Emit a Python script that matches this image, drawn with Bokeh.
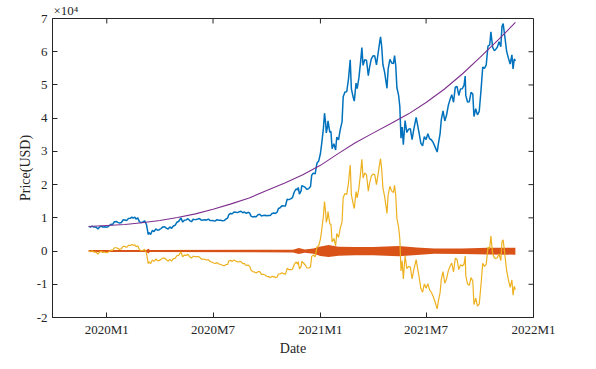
import pandas as pd
from bokeh.plotting import figure
from bokeh.models import Range1d, FixedTicker, ColumnDataSource
from bokeh.embed import file_html
from bokeh.resources import INLINE

# ---------------- data (values in units of 10^4 USD) ----------------
dates = [
    "2019-12-01", "2019-12-04", "2019-12-07", "2019-12-10", "2019-12-13", "2019-12-17", "2019-12-19", "2019-12-22", "2019-12-25", "2019-12-28", "2019-12-31",
    "2020-01-03", "2020-01-06", "2020-01-08", "2020-01-11", "2020-01-14", "2020-01-17", "2020-01-20", "2020-01-23", "2020-01-26", "2020-01-29",
    "2020-02-01", "2020-02-04", "2020-02-07", "2020-02-10", "2020-02-13", "2020-02-15", "2020-02-18", "2020-02-20", "2020-02-23", "2020-02-26", "2020-02-29",
    "2020-03-03", "2020-03-06", "2020-03-09", "2020-03-12", "2020-03-13", "2020-03-16", "2020-03-19", "2020-03-22", "2020-03-25", "2020-03-28", "2020-03-31",
    "2020-04-03", "2020-04-06", "2020-04-09", "2020-04-12", "2020-04-15", "2020-04-18", "2020-04-21", "2020-04-24", "2020-04-27", "2020-04-30",
    "2020-05-03", "2020-05-07", "2020-05-10", "2020-05-13", "2020-05-16", "2020-05-19", "2020-05-22", "2020-05-25", "2020-05-28", "2020-05-31",
    "2020-06-02", "2020-06-05", "2020-06-08", "2020-06-11", "2020-06-14", "2020-06-17", "2020-06-20", "2020-06-23", "2020-06-26", "2020-06-29",
    "2020-07-02", "2020-07-05", "2020-07-08", "2020-07-11", "2020-07-14", "2020-07-17", "2020-07-20", "2020-07-23", "2020-07-26", "2020-07-28", "2020-07-31",
    "2020-08-03", "2020-08-06", "2020-08-09", "2020-08-12", "2020-08-15", "2020-08-18", "2020-08-21", "2020-08-24", "2020-08-27", "2020-08-30",
    "2020-09-02", "2020-09-04", "2020-09-07", "2020-09-10", "2020-09-13", "2020-09-16", "2020-09-19", "2020-09-22", "2020-09-25", "2020-09-28",
    "2020-10-01", "2020-10-04", "2020-10-07", "2020-10-10", "2020-10-13", "2020-10-16", "2020-10-19", "2020-10-21", "2020-10-24", "2020-10-27", "2020-10-30",
    "2020-11-02", "2020-11-05", "2020-11-08", "2020-11-11", "2020-11-14", "2020-11-17", "2020-11-20", "2020-11-23", "2020-11-24", "2020-11-26", "2020-11-29", "2020-11-30",
    "2020-12-03", "2020-12-06", "2020-12-09", "2020-12-12", "2020-12-15", "2020-12-17", "2020-12-20", "2020-12-23", "2020-12-26", "2020-12-29",
    "2021-01-01", "2021-01-03", "2021-01-06", "2021-01-08", "2021-01-10", "2021-01-11", "2021-01-13", "2021-01-14", "2021-01-17", "2021-01-19", "2021-01-21", "2021-01-24", "2021-01-27", "2021-01-29",
    "2021-02-01", "2021-02-04", "2021-02-07", "2021-02-09", "2021-02-12", "2021-02-15", "2021-02-18", "2021-02-21", "2021-02-23", "2021-02-26", "2021-02-28",
    "2021-03-03", "2021-03-05", "2021-03-08", "2021-03-11", "2021-03-13", "2021-03-15", "2021-03-18", "2021-03-21", "2021-03-24", "2021-03-26", "2021-03-29",
    "2021-04-01", "2021-04-04", "2021-04-07", "2021-04-10", "2021-04-13", "2021-04-14", "2021-04-16", "2021-04-18", "2021-04-21", "2021-04-25", "2021-04-27", "2021-04-30",
    "2021-05-03", "2021-05-06", "2021-05-08", "2021-05-10", "2021-05-12", "2021-05-15", "2021-05-17", "2021-05-19", "2021-05-21", "2021-05-23", "2021-05-26", "2021-05-29",
    "2021-06-01", "2021-06-04", "2021-06-07", "2021-06-10", "2021-06-14", "2021-06-16", "2021-06-19", "2021-06-22", "2021-06-25", "2021-06-28",
    "2021-07-01", "2021-07-04", "2021-07-07", "2021-07-10", "2021-07-13", "2021-07-16", "2021-07-20", "2021-07-22", "2021-07-25", "2021-07-27", "2021-07-30",
    "2021-08-02", "2021-08-05", "2021-08-08", "2021-08-11", "2021-08-14", "2021-08-17", "2021-08-20", "2021-08-23", "2021-08-26", "2021-08-29",
    "2021-09-01", "2021-09-04", "2021-09-06", "2021-09-07", "2021-09-10", "2021-09-13", "2021-09-16", "2021-09-19", "2021-09-21", "2021-09-24", "2021-09-27", "2021-09-30",
    "2021-10-03", "2021-10-06", "2021-10-09", "2021-10-12", "2021-10-15", "2021-10-18", "2021-10-20", "2021-10-23", "2021-10-26", "2021-10-28", "2021-10-31",
    "2021-11-03", "2021-11-06", "2021-11-08", "2021-11-10", "2021-11-13", "2021-11-16", "2021-11-19", "2021-11-22", "2021-11-25", "2021-11-27", "2021-11-29",
    "2021-12-01",
]

price = [
    0.742, 0.720, 0.752, 0.722, 0.726, 0.664, 0.715, 0.752, 0.724, 0.732, 0.719,
    0.734, 0.777, 0.806, 0.802, 0.881, 0.890, 0.863, 0.840, 0.860, 0.939,
    0.935, 0.916, 0.980, 0.985, 1.024, 0.993, 1.018, 0.960, 0.998, 0.879, 0.855,
    0.876, 0.912, 0.795, 0.497, 0.556, 0.502, 0.619, 0.583, 0.668, 0.625, 0.642,
    0.679, 0.727, 0.730, 0.691, 0.664, 0.726, 0.685, 0.755, 0.776, 0.866,
    0.890, 0.998, 0.872, 0.931, 0.938, 0.973, 0.917, 0.883, 0.957, 0.946,
    0.953, 0.964, 0.977, 0.928, 0.938, 0.945, 0.936, 0.963, 0.916, 0.919,
    0.909, 0.907, 0.943, 0.924, 0.925, 0.915, 0.916, 0.960, 0.993, 1.095, 1.132,
    1.122, 1.175, 1.168, 1.157, 1.185, 1.199, 1.153, 1.175, 1.133, 1.168,
    1.140, 1.051, 1.028, 1.037, 1.033, 1.095, 1.109, 1.053, 1.073, 1.078,
    1.062, 1.068, 1.067, 1.130, 1.143, 1.132, 1.175, 1.282, 1.303, 1.365, 1.355,
    1.355, 1.559, 1.548, 1.570, 1.607, 1.770, 1.868, 1.840, 1.917, 1.715, 1.818, 1.970,
    1.945, 1.915, 1.855, 1.880, 1.943, 2.280, 2.347, 2.324, 2.644, 2.708,
    2.937, 3.213, 3.677, 4.150, 3.835, 3.556, 3.732, 3.919, 3.583, 3.600, 3.083, 3.229, 3.043, 3.432,
    3.350, 3.663, 3.890, 4.643, 4.791, 4.795, 5.168, 5.754, 4.883, 4.634, 4.514,
    5.054, 4.888, 5.226, 5.733, 6.124, 5.589, 5.764, 5.735, 5.277, 5.514, 5.775,
    5.873, 5.876, 5.605, 5.977, 6.350, 6.450, 6.144, 5.616, 5.379, 4.900, 5.482, 5.770,
    5.662, 5.640, 5.880, 5.584, 4.915, 4.676, 4.354, 3.400, 3.734, 3.200, 3.929, 3.568,
    3.669, 3.685, 3.356, 3.669, 4.022, 3.835, 3.552, 3.251, 3.164, 3.444,
    3.355, 3.529, 3.380, 3.350, 3.270, 3.151, 2.980, 3.229, 3.535, 3.946, 4.220,
    3.915, 4.087, 4.379, 4.559, 4.707, 4.480, 4.932, 4.955, 4.684, 4.881,
    4.885, 4.994, 5.266, 4.686, 4.487, 4.496, 4.776, 4.726, 4.050, 4.284, 4.100, 4.200,
    4.820, 5.536, 5.497, 5.604, 6.167, 6.204, 6.599, 6.131, 6.036, 6.062, 6.134,
    6.297, 6.153, 6.756, 6.850, 6.440, 6.012, 5.807, 5.629, 5.905, 5.480, 5.781,
    5.723,
]

cycle = [
    0.00, -0.02, 0.01, -0.03, -0.03, -0.09, -0.04, -0.01, -0.04, -0.03, -0.05,
    -0.04, 0.00, 0.03, 0.02, 0.10, 0.10, 0.08, 0.05, 0.07, 0.14,
    0.14, 0.11, 0.17, 0.17, 0.20, 0.17, 0.19, 0.13, 0.16, 0.04, 0.01,
    0.02, 0.05, -0.07, -0.38, -0.32, -0.38, -0.27, -0.31, -0.24, -0.29, -0.28,
    -0.25, -0.21, -0.21, -0.26, -0.30, -0.25, -0.30, -0.23, -0.22, -0.14,
    -0.13, -0.03, -0.17, -0.12, -0.13, -0.10, -0.17, -0.21, -0.15, -0.17,
    -0.17, -0.17, -0.18, -0.24, -0.24, -0.25, -0.27, -0.26, -0.32, -0.33,
    -0.36, -0.37, -0.35, -0.39, -0.40, -0.43, -0.44, -0.41, -0.40, -0.30, -0.28,
    -0.31, -0.27, -0.30, -0.33, -0.32, -0.32, -0.38, -0.38, -0.44, -0.42,
    -0.47, -0.57, -0.62, -0.63, -0.66, -0.62, -0.62, -0.70, -0.70, -0.72,
    -0.76, -0.77, -0.80, -0.76, -0.77, -0.80, -0.78, -0.69, -0.69, -0.65, -0.68,
    -0.70, -0.52, -0.56, -0.56, -0.55, -0.41, -0.33, -0.39, -0.32, -0.54, -0.46, -0.31,
    -0.36, -0.42, -0.51, -0.51, -0.48, -0.16, -0.12, -0.17, 0.12, 0.16,
    0.36, 0.61, 1.04, 1.49, 1.15, 0.86, 1.01, 1.19, 0.82, 0.81, 0.27, 0.38, 0.16, 0.53,
    0.41, 0.69, 0.88, 1.61, 1.73, 1.70, 2.04, 2.59, 1.70, 1.42, 1.28,
    1.79, 1.60, 1.91, 2.39, 2.76, 2.20, 2.35, 2.29, 1.80, 2.02, 2.25,
    2.32, 2.30, 2.00, 2.34, 2.69, 2.78, 2.45, 1.91, 1.64, 1.13, 1.69, 1.95,
    1.81, 1.76, 1.98, 1.67, 0.98, 0.71, 0.37, -0.60, -0.29, -0.84, -0.14, -0.53,
    -0.46, -0.48, -0.84, -0.56, -0.26, -0.47, -0.78, -1.12, -1.24, -0.99,
    -1.12, -0.98, -1.17, -1.24, -1.36, -1.51, -1.74, -1.51, -1.25, -0.86, -0.62,
    -0.97, -0.84, -0.60, -0.46, -0.36, -0.63, -0.22, -0.25, -0.56, -0.41,
    -0.45, -0.39, -0.15, -0.74, -0.99, -1.03, -0.80, -0.90, -1.61, -1.42, -1.66, -1.60,
    -1.03, -0.37, -0.46, -0.40, 0.11, 0.09, 0.45, -0.07, -0.21, -0.22, -0.20,
    -0.09, -0.29, 0.28, 0.34, -0.12, -0.60, -0.86, -1.09, -0.87, -1.33, -1.06,
    -1.16,
]

trend_dates = [
    "2019-12-01", "2020-01-01", "2020-02-01", "2020-03-01", "2020-04-01", "2020-05-01",
    "2020-06-01", "2020-07-01", "2020-08-01", "2020-09-01", "2020-10-01", "2020-11-01",
    "2020-12-01", "2021-01-01", "2021-02-01", "2021-03-01", "2021-04-01", "2021-05-01",
    "2021-06-01", "2021-07-01", "2021-08-01", "2021-09-01", "2021-10-01", "2021-11-01",
    "2021-12-01",
]
trend = [
    0.74, 0.77, 0.80, 0.85, 0.92, 1.01,
    1.12, 1.26, 1.42, 1.60, 1.82, 2.05,
    2.29, 2.58, 2.94, 3.25, 3.55, 3.83,
    4.13, 4.47, 4.87, 5.33, 5.82, 6.35,
    6.88,
]

noise_dates = [
    "2019-12-01", "2020-03-09", "2020-03-12", "2020-03-15", "2020-11-15", "2020-11-25",
    "2020-12-05", "2020-12-20", "2021-01-01", "2021-01-15", "2021-02-01", "2021-03-01",
    "2021-04-01", "2021-05-15", "2021-06-15", "2021-07-15", "2021-09-01", "2021-10-15",
    "2021-12-01",
]
noise_upper = [0.03, 0.03, 0.07, 0.03, 0.04, 0.09, 0.05, 0.08, 0.14, 0.18, 0.13, 0.12, 0.12, 0.15, 0.11, 0.08, 0.08, 0.10, 0.10]
noise_lower = [-0.03, -0.03, -0.07, -0.03, -0.04, -0.09, -0.05, -0.08, -0.15, -0.18, -0.14, -0.13, -0.13, -0.16, -0.12, -0.08, -0.09, -0.10, -0.11]

y_ticks = [-2, -1, 0, 1, 2, 3, 4, 5, 6, 7]
y_tick_labels = ["-2", "-1", "0", "1", "2", "3", "4", "5", "6", "7"]
x_tick_dates = ["2020-01-01", "2020-07-01", "2021-01-01", "2021-07-01", "2022-01-01"]
x_tick_labels = ["2020M1", "2020M7", "2021M1", "2021M7", "2022M1"]
x_limits = ["2019-09-30", "2022-01-01"]
y_limits = [-2, 7]

# ---------------- plot ----------------
def ms(s):
    return pd.Timestamp(s).value / 1e6

FONT = "Liberation Serif"
AX_COL = "#262626"

xr = Range1d(ms(x_limits[0]), ms(x_limits[1]))
yr = Range1d(y_limits[0], y_limits[1])

p = figure(width=580, height=361, x_axis_type="datetime", x_range=xr, y_range=yr,
           output_backend="svg", toolbar_location=None,
           min_border_left=52, min_border_right=47, min_border_top=16, min_border_bottom=44)
p.grid.visible = False
p.outline_line_color = AX_COL
p.outline_line_width = 1
p.background_fill_color = "white"
p.border_fill_color = "white"

p.title.text = "\u00d710\u2074"
p.title.text_font = FONT
p.title.text_font_size = "13px"
p.title.text_font_style = "normal"
p.title.text_color = AX_COL
p.title.align = "left"
p.title.offset = 1
p.title.standoff = 1

src = ColumnDataSource(dict(x=[ms(d) for d in dates], price=price, cycle=cycle))
tsrc = ColumnDataSource(dict(x=[ms(d) for d in trend_dates], trend=trend))
nsrc = ColumnDataSource(dict(x=[ms(d) for d in noise_dates], up=noise_upper, lo=noise_lower))

p.line("x", "price", source=src, color="#0072BD", line_width=1.5)
p.varea(x="x", y1="lo", y2="up", source=nsrc, fill_color="#D95319")
p.line("x", "cycle", source=src, color="#EDB120", line_width=1.2)
p.line("x", "trend", source=tsrc, color="#7E2F8E", line_width=1.1)

xt = [ms(d) for d in x_tick_dates]

def style(ax):
    ax.axis_line_color = AX_COL
    ax.axis_line_width = 1
    ax.major_tick_line_color = AX_COL
    ax.major_tick_in = 5
    ax.major_tick_out = 0
    ax.minor_tick_in = 0
    ax.minor_tick_out = 0
    ax.major_label_text_font = FONT
    ax.major_label_text_color = AX_COL
    ax.major_label_text_font_size = "13px"
    ax.axis_label_text_font = FONT
    ax.axis_label_text_font_style = "normal"
    ax.axis_label_text_font_size = "14px"
    ax.axis_label_text_color = AX_COL

xa = p.xaxis[0]
xa.ticker = FixedTicker(ticks=xt)
xa.major_label_overrides = {t: lab for t, lab in zip(xt, x_tick_labels)}
style(xa)
xa.major_label_standoff = 4
xa.axis_label = "Date"
xa.axis_label_standoff = 1

ya = p.yaxis[0]
ya.ticker = FixedTicker(ticks=y_ticks)
ya.major_label_overrides = {t: lab for t, lab in zip(y_ticks, y_tick_labels)}
style(ya)
ya.major_label_standoff = 5
ya.axis_label = "Price(USD)"
ya.axis_label_standoff = 1

# inward tick marks on the top and right edges of the box
p.ray(x=xt, y=[yr.end] * len(xt), length=5, length_units="screen",
      angle=-90, angle_units="deg", line_color=AX_COL, line_width=1)
p.ray(x=[xr.end] * len(y_ticks), y=y_ticks, length=5, length_units="screen",
      angle=180, angle_units="deg", line_color=AX_COL, line_width=1)

open("out.html", "w").write(file_html(p, INLINE))
